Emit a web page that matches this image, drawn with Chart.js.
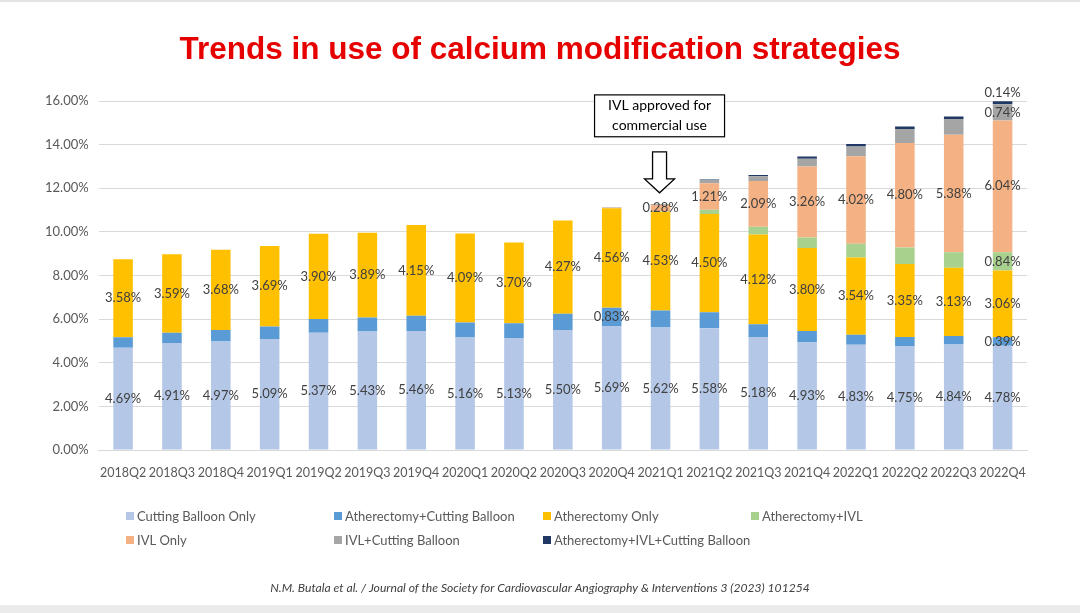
<!DOCTYPE html>
<html><head><meta charset="utf-8">
<script src="https://cdn.jsdelivr.net/npm/chart.js@4/dist/chart.umd.min.js"></script>
<style>html,body{margin:0;padding:0;background:#fff;overflow:hidden}#wrap{width:1080px;height:613px;position:relative}</style>
</head><body><div id="wrap"><canvas id="c" width="1080" height="613"></canvas></div>
<script>
const quarters = ['2018Q2','2018Q3','2018Q4','2019Q1','2019Q2','2019Q3','2019Q4','2020Q1','2020Q2','2020Q3','2020Q4','2021Q1','2021Q2','2021Q3','2021Q4','2022Q1','2022Q2','2022Q3','2022Q4'];
const cuttingBalloonOnly = [4.69,4.91,4.97,5.09,5.37,5.43,5.46,5.16,5.13,5.50,5.69,5.62,5.58,5.18,4.93,4.83,4.75,4.84,4.78];
const atherectomyCuttingBalloon = [0.48,0.47,0.53,0.57,0.64,0.64,0.70,0.68,0.68,0.75,0.83,0.77,0.74,0.58,0.53,0.45,0.43,0.39,0.39];
const atherectomyOnly = [3.58,3.59,3.68,3.69,3.90,3.89,4.15,4.09,3.70,4.27,4.56,4.53,4.50,4.12,3.80,3.54,3.35,3.13,3.06];
const atherectomyIVL = [0,0,0,0,0,0,0,0,0,0,0,0.03,0.20,0.36,0.48,0.63,0.75,0.71,0.84];
const ivlOnly = [0,0,0,0,0,0,0,0,0,0,0.03,0.28,1.21,2.09,3.26,4.02,4.80,5.38,6.04];
const ivlCuttingBalloon = [0,0,0,0,0,0,0,0,0,0,0.02,0.04,0.15,0.22,0.35,0.44,0.64,0.72,0.74];
const atherectomyIVLCuttingBalloon = [0,0,0,0,0,0,0,0,0,0,0,0.01,0.02,0.06,0.10,0.12,0.11,0.12,0.14];
const yTicks = [0,2,4,6,8,10,12,14,16];

// which points carry a value label
const allIdx = quarters.map((q,i)=>i);
const labelIdx = [
  allIdx,          // Cutting Balloon Only
  [10,18],         // Atherectomy+Cutting Balloon
  allIdx,          // Atherectomy Only
  [18],            // Atherectomy+IVL
  [11,12,13,14,15,16,17,18], // IVL Only
  [18],            // IVL+Cutting Balloon
  [18]             // Atherectomy+IVL+Cutting Balloon (above bar)
];

const seriesNames = ['Cutting Balloon Only','Atherectomy+Cutting Balloon','Atherectomy Only','Atherectomy+IVL','IVL Only','IVL+Cutting Balloon','Atherectomy+IVL+Cutting Balloon'];
const seriesData = [cuttingBalloonOnly,atherectomyCuttingBalloon,atherectomyOnly,atherectomyIVL,ivlOnly,ivlCuttingBalloon,atherectomyIVLCuttingBalloon];
const seriesColors = ['#b4c7e7','#5b9bd5','#ffc000','#a9d18e','#f4b183','#a5a5a5','#203864'];
const chartTitle = 'Trends in use of calcium modification strategies';

const FONT = 'Lato, "Open Sans", sans-serif';

const decor = {
  id:'decor',
  beforeDraw(chart){
    const ctx = chart.ctx;
    ctx.save();
    ctx.fillStyle = '#fff';
    ctx.fillRect(0,0,chart.width,chart.height);
    ctx.fillStyle = '#e4e4e4';
    ctx.fillRect(0,0,chart.width,2);
    ctx.fillStyle = '#ebebeb';
    ctx.fillRect(0,chart.height-8,chart.width,8);
    // title
    ctx.fillStyle = '#e60000';
    ctx.font = 'bold 31.5px "Liberation Sans", Arial, sans-serif';
    ctx.textAlign = 'center';
    ctx.textBaseline = 'middle';
    ctx.fillText(chartTitle, chart.width/2, 50);
    ctx.restore();
  },
  afterDatasetsDraw(chart){
    const ctx = chart.ctx;
    ctx.save();
    ctx.font = '13px ' + FONT;
    ctx.fillStyle = '#404040';
    ctx.textAlign = 'center';
    ctx.textBaseline = 'middle';
    chart.data.datasets.forEach((ds, di) => {
      const meta = chart.getDatasetMeta(di);
      labelIdx[di].forEach(i => {
        const el = meta.data[i];
        const v = ds.data[i];
        const txt = v.toFixed(2) + '%';
        if (di === 6) {
          ctx.fillText(txt, el.x, el.y - 8);
        } else {
          ctx.fillText(txt, el.x, (el.y + el.base)/2);
        }
      });
    });
    ctx.restore();
  },
  afterDraw(chart){
    const ctx = chart.ctx;
    const x = chart.scales.x, y = chart.scales.y;
    ctx.save();
    // annotation box
    const cx = x.getPixelForValue(11);
    const bTop = y.getPixelForValue(16.28), bBot = y.getPixelForValue(14.36);
    ctx.fillStyle = '#fff';
    ctx.strokeStyle = '#000';
    ctx.lineWidth = 1.2;
    ctx.fillRect(cx-66, bTop, 130, bBot-bTop);
    ctx.strokeRect(cx-66, bTop, 130, bBot-bTop);
    ctx.fillStyle = '#000';
    ctx.font = '14px ' + FONT;
    ctx.textAlign = 'center';
    ctx.textBaseline = 'middle';
    ctx.fillText('IVL approved for', cx-1, bTop + 11);
    ctx.fillText('commercial use', cx-1, bTop + 31);
    // hollow arrow
    const sTop = y.getPixelForValue(13.67), hTop = y.getPixelForValue(12.43), tip = y.getPixelForValue(11.79);
    const ax = cx - 1;
    ctx.beginPath();
    ctx.moveTo(ax-7, sTop); ctx.lineTo(ax+7, sTop); ctx.lineTo(ax+7, hTop);
    ctx.lineTo(ax+15, hTop); ctx.lineTo(ax, tip); ctx.lineTo(ax-15, hTop);
    ctx.lineTo(ax-7, hTop); ctx.closePath();
    ctx.fillStyle = '#fff'; ctx.fill();
    ctx.lineWidth = 1.3; ctx.strokeStyle = '#000'; ctx.stroke();
    // legend
    ctx.font = '13px ' + FONT;
    ctx.textAlign = 'left';
    ctx.textBaseline = 'middle';
    const colX = [126, 334, 543, 751];
    const rowY = [516, 540];
    seriesNames.forEach((n, i) => {
      const c = i < 4 ? i : i - 4;
      const r = i < 4 ? 0 : 1;
      ctx.fillStyle = seriesColors[i];
      ctx.fillRect(colX[c], rowY[r]-4, 8, 8);
      ctx.fillStyle = '#595959';
      ctx.fillText(n, colX[c] + 11, rowY[r] + 1);
    });
    // footnote
    const note = 'N.M. Butala et al. / Journal of the Society for Cardiovascular Angiography & Interventions 3 (2023) 101254';
    ctx.font = 'italic 12px ' + FONT;
    const w = ctx.measureText(note).width;
    const fs = 12 * 540 / w;
    ctx.font = 'italic ' + fs.toFixed(2) + 'px ' + FONT;
    ctx.fillStyle = '#404040';
    ctx.textAlign = 'center';
    ctx.fillText(note, 540, 588);
    ctx.restore();
  }
};

new Chart(document.getElementById('c'), {
  type:'bar',
  data:{
    labels: quarters,
    datasets: seriesNames.map((n,i)=>({
      label:n, data:seriesData[i], backgroundColor:seriesColors[i], borderWidth:0,
      categoryPercentage:0.4, barPercentage:1
    }))
  },
  options:{
    responsive:false, animation:false, devicePixelRatio:1,
    layout:{padding:{left:35,right:53,top:101,bottom:126}},
    plugins:{
      legend:{display:false},
      tooltip:{enabled:false},
      title:{display:false}
    },
    scales:{
      x:{stacked:true,grid:{display:false},border:{color:'#d9d9d9'},
        ticks:{color:'#595959',font:{family:FONT,size:12.5},padding:7,maxRotation:0,autoSkip:false}},
      y:{stacked:true,min:0,max:16,
        afterBuildTicks(s){ s.ticks = yTicks.map(v=>({value:v})); },
        grid:{color:'#d9d9d9',drawTicks:false},border:{display:false},
        ticks:{color:'#595959',font:{family:FONT,size:13},padding:10,callback:v=>v.toFixed(2)+'%'}}
    }
  },
  plugins:[decor]
});
</script></body></html>
